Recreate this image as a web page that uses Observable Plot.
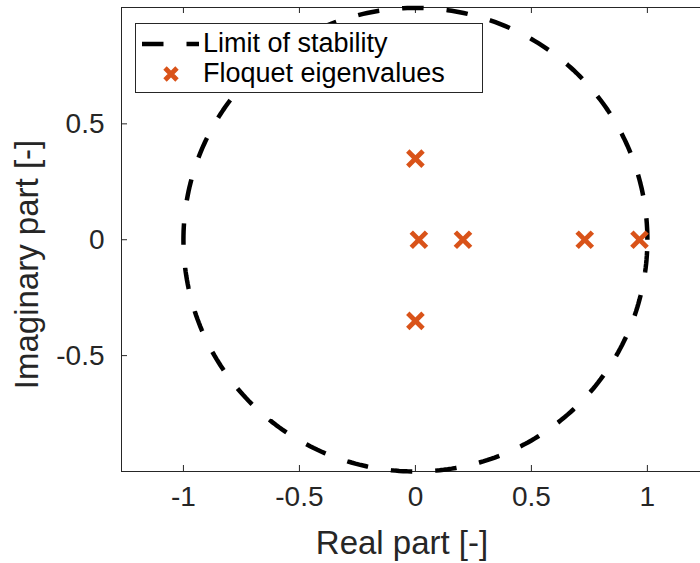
<!DOCTYPE html>
<html>
<head>
<meta charset="utf-8">
<script src="https://cdn.jsdelivr.net/npm/d3@7"></script>
<script src="https://cdn.jsdelivr.net/npm/@observablehq/plot@0.6"></script>
<style>
  html, body { margin: 0; padding: 0; background: #fff; overflow: hidden; }
  #wrap { position: relative; width: 700px; height: 563px; font-family: "Liberation Sans", Arial, sans-serif; color: #262626; }
  #legend { position: absolute; left: 135px; top: 23px; width: 348px; height: 70px; border: 1px solid #262626; background: #fff; box-sizing: border-box; }
  .lrow { position: absolute; left: 0; height: 30px; width: 100%; }
  .lrow svg { position: absolute; left: 0; top: 0; }
  .lrow span { position: absolute; left: 67px; top: 50%; transform: translateY(-52%); font-size: 27px; line-height: 1; white-space: nowrap; color: #000; }
</style>
</head>
<body>
<div id="wrap"></div>
<script>
// ---- data ----
const realParts = [0, 0, 0.015, 0.205, 0.73, 0.966];
const imagParts = [0.35, -0.35, 0, 0, 0, 0];
const xTicks = [-1, -0.5, 0, 0.5, 1];
const xTickLabels = ["-1", "-0.5", "0", "0.5", "1"];
const yTicks = [-0.5, 0, 0.5];
const yTickLabels = ["-0.5", "0", "0.5"];
const xDomain = [-1.267, 1.229];
const yDomain = [-1.0, 1.002];
const stabilityRadius = 1;
const seriesNames = ["Limit of stability", "Floquet eigenvalues"];
const xLabel = "Real part [-]";
const yLabel = "Imaginary part [-]";

// unit circle (limit of stability |z| = 1), traced counter-clockwise from (1, 0)
const circleAngles = d3.range(0, 361, 1);
const circle = circleAngles.map(a => ({
  x: stabilityRadius * Math.cos(a * Math.PI / 180),
  y: stabilityRadius * Math.sin(a * Math.PI / 180)
}));
const eig = realParts.map((re, i) => ({re, im: imagParts[i]}));

const W = 700, H = 563, mL = 121, mR = 0, mT = 7, mB = 92;
const innerW = W - mL - mR, innerH = H - mT - mB;
const tickLen = 6;
const axisColor = "#262626";
const orange = "#D95319";

const chart = Plot.plot({
  width: W, height: H,
  marginLeft: mL, marginRight: mR, marginTop: mT, marginBottom: mB,
  style: {fontFamily: '"Liberation Sans", Arial, sans-serif', color: axisColor, background: "#fff"},
  x: {domain: xDomain},
  y: {domain: yDomain},
  marks: [
    // frame: left, top, bottom
    Plot.ruleX([xDomain[0]], {stroke: axisColor, strokeWidth: 1}),
    Plot.ruleY([yDomain[1]], {stroke: axisColor, strokeWidth: 1}),
    Plot.ruleY([yDomain[0]], {stroke: axisColor, strokeWidth: 1}),
    // inward ticks
    Plot.tickX(xTicks, {x: d => d, insetTop: innerH - tickLen, stroke: axisColor}),
    Plot.tickX(xTicks, {x: d => d, insetBottom: innerH - tickLen, stroke: axisColor}),
    Plot.tickY(yTicks, {y: d => d, insetRight: innerW - tickLen, stroke: axisColor}),
    // tick labels
    Plot.axisX({anchor: "bottom", ticks: xTicks, tickFormat: (d) => xTickLabels[xTicks.indexOf(d)], tickSize: 0, tickPadding: 15, fontSize: 28, label: null, fill: axisColor}),
    Plot.axisY({anchor: "left", ticks: yTicks, tickFormat: (d) => yTickLabels[yTicks.indexOf(d)], tickSize: 0, tickPadding: 17, fontSize: 28, label: null, fill: axisColor}),
    // axis titles
    Plot.text([xLabel], {text: d => d, frameAnchor: "bottom", textAnchor: "middle", dx: -9, dy: 59, lineAnchor: "top", fontSize: 33, fill: axisColor}),
    Plot.text([yLabel], {text: d => d, frameAnchor: "left", textAnchor: "middle", rotate: -90, dx: -107, dy: 25, lineAnchor: "top", fontSize: 33, fill: axisColor}),
    // limit of stability
    Plot.line(circle, {x: "x", y: "y", stroke: "#000", strokeWidth: 4.5, strokeDasharray: "21.5,23", strokeLinecap: "butt", strokeLinejoin: "miter", curve: "linear"}),
    // Floquet eigenvalues
    Plot.dot(eig, {x: "re", y: "im", symbol: "times", r: 7, stroke: orange, strokeWidth: 4.8})
  ]
});

const wrap = document.getElementById("wrap");
wrap.appendChild(chart);

// legend (inside the axes, like MATLAB's)
const legend = document.createElement("div");
legend.id = "legend";
legend.innerHTML = `
  <div class="lrow" style="top:5px;">
    <svg width="70" height="30"><line x1="6" y1="15" x2="63" y2="15" stroke="#000" stroke-width="4.5" stroke-dasharray="21.5,23"/></svg>
    <span>${seriesNames[0]}</span>
  </div>
  <div class="lrow" style="top:35px;">
    <svg width="70" height="30"><path d="M29,9L41,21M41,9L29,21" stroke="${orange}" stroke-width="4.8" fill="none"/></svg>
    <span>${seriesNames[1]}</span>
  </div>`;
wrap.appendChild(legend);
</script>
</body>
</html>
